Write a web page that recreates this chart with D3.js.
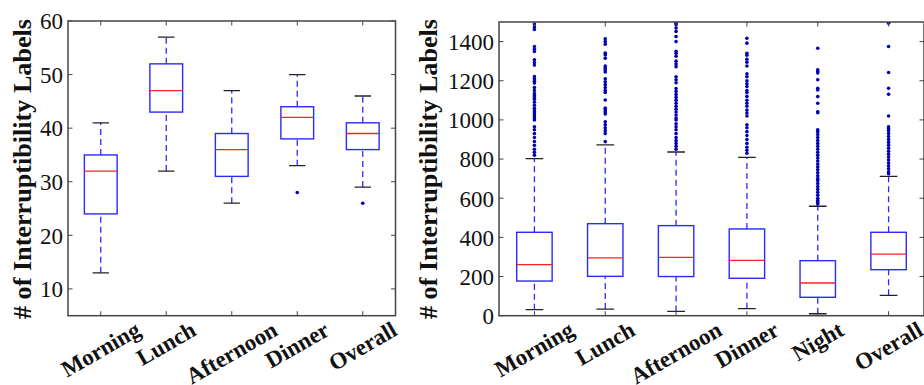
<!DOCTYPE html>
<html>
<head>
<meta charset="utf-8">
<script src="https://cdn.jsdelivr.net/npm/d3@7/dist/d3.min.js"></script>
<style>
  html, body { margin: 0; padding: 0; background: #fff; }
  svg { display: block; }
  svg text { font-family: "Liberation Serif", "Tinos", "Times New Roman", "DejaVu Serif", serif; fill: #111; }
</style>
</head>
<body>
<svg id="chart" width="924" height="385"></svg>
<script>
// ---------- Left panel data ----------
const leftCategories = ["Morning", "Lunch", "Afternoon", "Dinner", "Overall"];
const leftWhiskerLow  = [13, 32, 26, 33, 29];
const leftQ1          = [24, 43, 31, 38, 36];
const leftMedian      = [32, 47, 36, 42, 39];
const leftQ3          = [35, 52, 39, 44, 41];
const leftWhiskerHigh = [41, 57, 47, 50, 46];
const leftOutliers    = [[], [], [], [28], [26]];
const leftTicks       = [10, 20, 30, 40, 50, 60];
const leftDomain      = [5, 60];

// ---------- Right panel data ----------
const rightCategories = ["Morning", "Lunch", "Afternoon", "Dinner", "Night", "Overall"];
const rightWhiskerLow  = [31, 34, 22, 36, 10, 104];
const rightQ1          = [177, 201, 200, 191, 94, 235];
const rightMedian      = [261, 295, 298, 283, 167, 314];
const rightQ3          = [426, 470, 460, 443, 281, 426];
const rightWhiskerHigh = [802, 872, 836, 809, 559, 712];
const rightOutliers = [
  [1490, 1475, 1462, 1375, 1361, 1349, 1307, 1293, 1280, 1221, 1210, 1198, 1188, 1165, 1150, 1135,
   1125, 1115, 1105, 1090, 1075, 1060, 1050, 1040, 1030, 1020, 1010, 1000, 965, 950, 930, 910, 890,
   870, 850, 835, 820],
  [1414, 1400, 1387, 1341, 1332, 1315, 1275, 1265, 1255, 1245, 1210, 1195, 1180, 1165, 1150, 1140,
   1102, 1060, 1050, 1040, 1030, 990, 975, 960, 945, 930, 889],
  [1520, 1494, 1486, 1469, 1452, 1426, 1400, 1350, 1340, 1325, 1300, 1285, 1272, 1220, 1205, 1190,
   1160, 1145, 1130, 1115, 1100, 1085, 1070, 1055, 1040, 1025, 1010, 1000, 980, 965, 950, 930, 910,
   895, 880, 865, 850],
  [1417, 1392, 1340, 1330, 1310, 1295, 1275, 1235, 1220, 1200, 1185, 1170, 1150, 1140, 1120, 1100,
   1085, 1070, 1050, 1035, 1020, 975, 960, 940, 920, 900, 880, 860, 845, 830],
  [1366, 1256, 1247, 1239, 1205, 1162, 1153, 1119, 1085, 1042, 1037, 950, 940, 925, 910, 895, 880,
   865, 850, 835, 820, 805, 790, 775, 760, 745, 730, 715, 700, 690, 675, 660, 645, 630, 615, 600,
   590, 580, 570],
  [1494, 1375, 1242, 1162, 1131, 1020, 965, 955, 945, 930, 915, 900, 885, 870, 855, 840, 825, 810,
   795, 780, 765, 750, 735, 725]
];
const rightTicks  = [0, 200, 400, 600, 800, 1000, 1200, 1400];
const rightDomain = [0, 1500];

const yLabel = "# of Interruptibility Labels";

// ---------- Drawing ----------
const svg = d3.select("#chart");
const SERIF = "'Liberation Serif', 'Tinos', 'Times New Roman', 'DejaVu Serif', serif";

const BOX_BLUE = "#2a2aff";
const WHISK_BLUE = "#2a2aff";
const MED_RED = "#ff2020";
const CAP = "#222";
const FRAME = "#444";
const DOT = "#0000b8";

function drawPanel(opts) {
  const { id, left, right, top, bottom, cats, lo, q1, med, q3, hi, outl, ticks, domain, labelX, tickFont } = opts;
  const g = svg.append("g");
  const x = d3.scaleLinear().domain([0.5, cats.length + 0.5]).range([left, right]);
  const y = d3.scaleLinear().domain(domain).range([bottom, top]);

  const clipId = "clip-" + id;
  svg.append("clipPath").attr("id", clipId)
    .append("rect").attr("x", left).attr("y", top).attr("width", right - left).attr("height", bottom - top);

  const plot = g.append("g").attr("clip-path", `url(#${clipId})`);
  const idx = d3.range(cats.length);
  const bw = 0.5, cw = 0.25;

  // whiskers (dashed)
  plot.selectAll(".wl").data(idx).enter().append("line")
    .attr("x1", i => x(i + 1)).attr("x2", i => x(i + 1))
    .attr("y1", i => y(lo[i])).attr("y2", i => y(q1[i]))
    .attr("stroke", WHISK_BLUE).attr("stroke-width", 1.3).attr("stroke-dasharray", "6,4");
  plot.selectAll(".wh").data(idx).enter().append("line")
    .attr("x1", i => x(i + 1)).attr("x2", i => x(i + 1))
    .attr("y1", i => y(q3[i])).attr("y2", i => y(hi[i]))
    .attr("stroke", WHISK_BLUE).attr("stroke-width", 1.3).attr("stroke-dasharray", "6,4");

  // caps
  plot.selectAll(".cl").data(idx).enter().append("line")
    .attr("x1", i => x(i + 1 - cw / 2)).attr("x2", i => x(i + 1 + cw / 2))
    .attr("y1", i => y(lo[i])).attr("y2", i => y(lo[i]))
    .attr("stroke", CAP).attr("stroke-width", 1.3);
  plot.selectAll(".ch").data(idx).enter().append("line")
    .attr("x1", i => x(i + 1 - cw / 2)).attr("x2", i => x(i + 1 + cw / 2))
    .attr("y1", i => y(hi[i])).attr("y2", i => y(hi[i]))
    .attr("stroke", CAP).attr("stroke-width", 1.3);

  // boxes
  plot.selectAll(".box").data(idx).enter().append("rect")
    .attr("x", i => x(i + 1 - bw / 2)).attr("width", i => x(i + 1 + bw / 2) - x(i + 1 - bw / 2))
    .attr("y", i => y(q3[i])).attr("height", i => y(q1[i]) - y(q3[i]))
    .attr("fill", "none").attr("stroke", BOX_BLUE).attr("stroke-width", 1.4);

  // medians
  plot.selectAll(".med").data(idx).enter().append("line")
    .attr("x1", i => x(i + 1 - bw / 2)).attr("x2", i => x(i + 1 + bw / 2))
    .attr("y1", i => y(med[i])).attr("y2", i => y(med[i]))
    .attr("stroke", MED_RED).attr("stroke-width", 1.3);

  // outliers
  idx.forEach(i => {
    plot.selectAll(null).data(outl[i]).enter().append("circle")
      .attr("cx", x(i + 1)).attr("cy", v => y(v)).attr("r", 1.8)
      .attr("fill", DOT);
  });

  // frame
  g.append("rect").attr("x", left).attr("y", top).attr("width", right - left).attr("height", bottom - top)
    .attr("fill", "none").attr("stroke", FRAME).attr("stroke-width", 1.5);

  // inward ticks
  const tl = 4.5;
  ticks.forEach(t => {
    g.append("line").attr("x1", left).attr("x2", left + tl).attr("y1", y(t)).attr("y2", y(t))
      .attr("stroke", FRAME).attr("stroke-width", 1);
    g.append("line").attr("x1", right - tl).attr("x2", right).attr("y1", y(t)).attr("y2", y(t))
      .attr("stroke", FRAME).attr("stroke-width", 1);
  });
  idx.forEach(i => {
    g.append("line").attr("x1", x(i + 1)).attr("x2", x(i + 1)).attr("y1", top).attr("y2", top + tl)
      .attr("stroke", FRAME).attr("stroke-width", 1);
    g.append("line").attr("x1", x(i + 1)).attr("x2", x(i + 1)).attr("y1", bottom - tl).attr("y2", bottom)
      .attr("stroke", FRAME).attr("stroke-width", 1);
  });

  // y tick labels via d3 axis (labels only)
  const yAxis = d3.axisLeft(y).tickValues(ticks).tickSize(0).tickPadding(5).tickFormat(d3.format("d"));
  const ya = g.append("g").attr("transform", `translate(${left},0)`).call(yAxis);
  ya.attr("font-family", SERIF).attr("font-size", tickFont);
  ya.select(".domain").remove();
  ya.selectAll("text").attr("font-size", tickFont).attr("fill", "#111")
    .attr("font-family", SERIF).attr("dy", "0.34em");

  // x category labels, rotated 30deg, centred on tick (bbox centre)
  const ang = 30 * Math.PI / 180;
  const fs = 23;
  idx.forEach(i => {
    const t = g.append("text").text(cats[i])
      .attr("font-family", SERIF)
      .attr("font-size", fs).attr("font-weight", "bold")
      .attr("text-anchor", "middle").attr("dominant-baseline", "central");
    const w = t.node().getComputedTextLength();
    const h = fs * 0.72;
    const bh = w * Math.sin(ang) + h * Math.cos(ang);
    const cx = x(i + 1);
    const cy = bottom + 5 + bh / 2;
    t.attr("transform", `translate(${cx},${cy}) rotate(-30)`);
  });

  // y label
  g.append("text").text(yLabel)
    .attr("font-family", SERIF)
    .attr("font-size", 25).attr("font-weight", "bold")
    .attr("textLength", 300).attr("lengthAdjust", "spacingAndGlyphs")
    .attr("text-anchor", "middle").attr("dominant-baseline", "central")
    .attr("transform", `translate(${labelX},${(18 + 320) / 2}) rotate(-90)`);
}

drawPanel({
  id: "left", left: 68, right: 395.5, top: 21, bottom: 315.7,
  cats: leftCategories, lo: leftWhiskerLow, q1: leftQ1, med: leftMedian, q3: leftQ3, hi: leftWhiskerHigh,
  outl: leftOutliers, ticks: leftTicks, domain: leftDomain, labelX: 22, tickFont: 23
});
drawPanel({
  id: "right", left: 499, right: 924, top: 22, bottom: 315.7,
  cats: rightCategories, lo: rightWhiskerLow, q1: rightQ1, med: rightMedian, q3: rightQ3, hi: rightWhiskerHigh,
  outl: rightOutliers, ticks: rightTicks, domain: rightDomain, labelX: 428, tickFont: 23
});
</script>
</body>
</html>
